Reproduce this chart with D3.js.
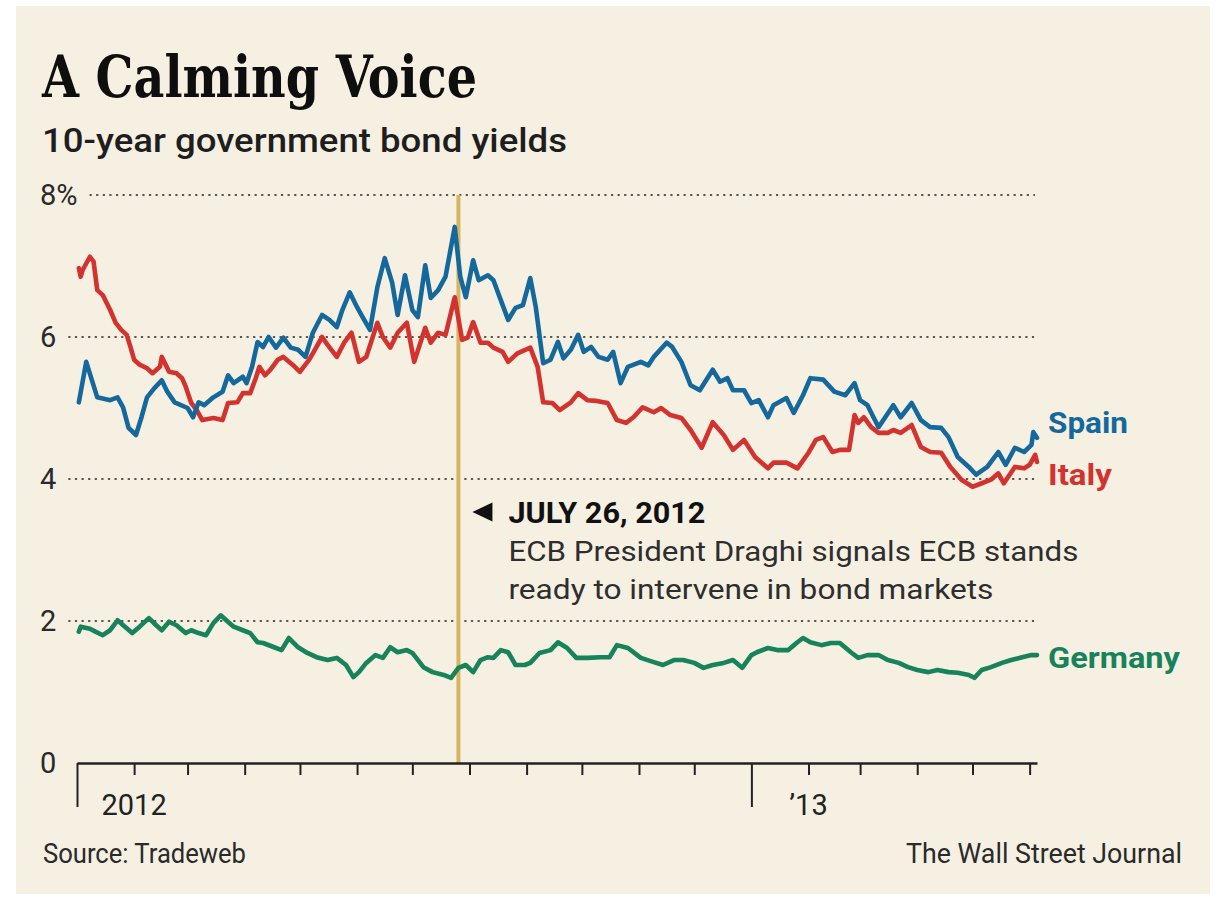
<!DOCTYPE html>
<html>
<head>
<meta charset="utf-8">
<script src="https://cdn.jsdelivr.net/npm/d3@7"></script>
<style>
  html, body { margin: 0; padding: 0; background: #ffffff; }
  svg { display: block; }
</style>
</head>
<body>
<div id="chart"></div>
<script>
// 10-year government bond yields (approximate)
const spain = [
  ["2012-01-02",5.08],["2012-01-06",5.65],["2012-01-09",5.40],["2012-01-12",5.15],["2012-01-19",5.11],
  ["2012-01-23",5.15],["2012-01-26",5.01],["2012-01-29",4.72],["2012-02-02",4.62],["2012-02-05",4.87],
  ["2012-02-08",5.15],["2012-02-12",5.28],["2012-02-16",5.39],["2012-02-19",5.23],["2012-02-23",5.08],
  ["2012-03-01",5.00],["2012-03-04",4.87],["2012-03-07",5.08],["2012-03-10",5.04],["2012-03-15",5.15],
  ["2012-03-20",5.23],["2012-03-23",5.46],["2012-03-26",5.35],["2012-03-31",5.44],["2012-04-02",5.35],
  ["2012-04-05",5.58],["2012-04-08",5.93],["2012-04-11",5.86],["2012-04-14",6.00],["2012-04-18",5.85],
  ["2012-04-22",5.99],["2012-04-26",5.85],["2012-04-30",5.82],["2012-05-04",5.72],["2012-05-08",6.06],
  ["2012-05-13",6.31],["2012-05-17",6.24],["2012-05-21",6.14],["2012-05-24",6.38],["2012-05-28",6.63],
  ["2012-06-01",6.42],["2012-06-04",6.28],["2012-06-08",6.10],["2012-06-12",6.70],["2012-06-16",7.11],
  ["2012-06-20",6.77],["2012-06-23",6.31],["2012-06-27",6.87],["2012-07-01",6.38],["2012-07-04",6.28],
  ["2012-07-08",7.01],["2012-07-11",6.55],["2012-07-15",6.66],["2012-07-19",6.85],["2012-07-24",7.55],
  ["2012-07-27",6.85],["2012-07-30",6.56],["2012-08-03",7.08],["2012-08-06",6.80],["2012-08-11",6.87],
  ["2012-08-14",6.80],["2012-08-18",6.52],["2012-08-22",6.24],["2012-08-26",6.41],["2012-08-30",6.45],
  ["2012-09-03",6.83],["2012-09-06",6.42],["2012-09-10",5.63],["2012-09-14",5.68],["2012-09-18",5.93],
  ["2012-09-21",5.70],["2012-09-25",5.82],["2012-09-29",6.03],["2012-10-02",5.79],["2012-10-06",5.86],
  ["2012-10-10",5.72],["2012-10-15",5.68],["2012-10-18",5.79],["2012-10-22",5.35],["2012-10-26",5.58],
  ["2012-11-02",5.65],["2012-11-06",5.60],["2012-11-09",5.72],["2012-11-16",5.92],["2012-11-19",5.86],
  ["2012-11-24",5.65],["2012-11-29",5.32],["2012-12-04",5.25],["2012-12-11",5.54],["2012-12-15",5.37],
  ["2012-12-19",5.42],["2012-12-22",5.25],["2012-12-28",5.25],["2013-01-01",5.07],["2013-01-05",5.11],
  ["2013-01-10",4.87],["2013-01-13",5.04],["2013-01-20",5.14],["2013-01-24",4.93],["2013-01-29",5.18],
  ["2013-02-02",5.42],["2013-02-09",5.40],["2013-02-15",5.23],["2013-02-21",5.18],["2013-02-26",5.35],
  ["2013-03-01",5.11],["2013-03-05",5.04],["2013-03-11",4.73],["2013-03-19",5.04],["2013-03-23",4.87],
  ["2013-03-29",5.07],["2013-04-03",4.83],["2013-04-08",4.73],["2013-04-14",4.72],["2013-04-18",4.59],
  ["2013-04-23",4.31],["2013-04-29",4.17],["2013-05-03",4.06],["2013-05-09",4.17],["2013-05-15",4.38],
  ["2013-05-19",4.20],["2013-05-24",4.44],["2013-05-29",4.38],["2013-06-02",4.48],["2013-06-03",4.66],
  ["2013-06-05",4.58]
];

const italy = [
  ["2012-01-02",6.97],["2012-01-03",6.85],["2012-01-04",6.94],["2012-01-08",7.13],["2012-01-10",7.06],
  ["2012-01-12",6.66],["2012-01-15",6.59],["2012-01-19",6.38],["2012-01-22",6.20],["2012-01-25",6.10],
  ["2012-01-28",6.03],["2012-01-30",5.86],["2012-02-01",5.68],["2012-02-04",5.61],["2012-02-08",5.56],
  ["2012-02-11",5.49],["2012-02-15",5.58],["2012-02-16",5.72],["2012-02-20",5.51],["2012-02-24",5.49],
  ["2012-02-27",5.42],["2012-02-29",5.30],["2012-03-03",5.07],["2012-03-06",4.97],["2012-03-09",4.83],
  ["2012-03-15",4.86],["2012-03-20",4.83],["2012-03-23",5.07],["2012-03-28",5.08],["2012-03-31",5.21],
  ["2012-04-04",5.21],["2012-04-07",5.42],["2012-04-09",5.58],["2012-04-12",5.46],["2012-04-15",5.54],
  ["2012-04-19",5.68],["2012-04-22",5.72],["2012-04-27",5.61],["2012-05-01",5.51],["2012-05-06",5.68],
  ["2012-05-08",5.77],["2012-05-13",6.00],["2012-05-16",5.89],["2012-05-21",5.72],["2012-05-25",5.92],
  ["2012-05-29",6.06],["2012-06-02",5.65],["2012-06-06",5.72],["2012-06-12",6.20],["2012-06-15",6.00],
  ["2012-06-19",5.85],["2012-06-23",6.06],["2012-06-28",6.20],["2012-07-02",5.65],["2012-07-08",6.13],
  ["2012-07-11",5.92],["2012-07-15",6.06],["2012-07-19",6.03],["2012-07-24",6.56],["2012-07-28",5.96],
  ["2012-07-31",5.99],["2012-08-03",6.21],["2012-08-07",5.92],["2012-08-11",5.92],["2012-08-14",5.85],
  ["2012-08-19",5.79],["2012-08-22",5.65],["2012-08-27",5.77],["2012-09-03",5.85],["2012-09-07",5.58],
  ["2012-09-10",5.08],["2012-09-15",5.07],["2012-09-19",4.97],["2012-09-25",5.08],["2012-09-29",5.21],
  ["2012-10-04",5.11],["2012-10-09",5.10],["2012-10-15",5.07],["2012-10-20",4.83],["2012-10-25",4.79],
  ["2012-10-29",4.87],["2012-11-03",5.01],["2012-11-09",4.94],["2012-11-13",5.00],["2012-11-18",4.90],
  ["2012-11-24",4.86],["2012-11-29",4.69],["2012-12-05",4.44],["2012-12-11",4.80],["2012-12-17",4.62],
  ["2012-12-22",4.41],["2012-12-28",4.55],["2013-01-03",4.31],["2013-01-10",4.15],["2013-01-13",4.23],
  ["2013-01-20",4.23],["2013-01-26",4.15],["2013-02-01",4.37],["2013-02-05",4.55],["2013-02-09",4.59],
  ["2013-02-14",4.38],["2013-02-18",4.41],["2013-02-23",4.41],["2013-02-26",4.90],["2013-02-28",4.79],
  ["2013-03-03",4.87],["2013-03-07",4.73],["2013-03-11",4.65],["2013-03-16",4.65],["2013-03-19",4.69],
  ["2013-03-23",4.65],["2013-03-29",4.76],["2013-04-03",4.45],["2013-04-08",4.38],["2013-04-14",4.37],
  ["2013-04-19",4.17],["2013-04-25",3.99],["2013-05-01",3.89],["2013-05-06",3.94],["2013-05-11",3.99],
  ["2013-05-15",4.08],["2013-05-18",3.94],["2013-05-24",4.17],["2013-05-29",4.15],["2013-06-01",4.20],
  ["2013-06-04",4.34],["2013-06-05",4.24]
];

const germany = [
  ["2012-01-02",1.85],["2012-01-03",1.92],["2012-01-08",1.89],["2012-01-11",1.85],["2012-01-15",1.80],
  ["2012-01-19",1.87],["2012-01-23",2.01],["2012-01-27",1.92],["2012-01-31",1.83],["2012-02-04",1.92],
  ["2012-02-09",2.04],["2012-02-13",1.94],["2012-02-16",1.87],["2012-02-20",1.99],["2012-02-24",1.94],
  ["2012-02-29",1.83],["2012-03-03",1.87],["2012-03-07",1.83],["2012-03-11",1.80],["2012-03-15",1.97],
  ["2012-03-19",2.08],["2012-03-22",2.01],["2012-03-26",1.92],["2012-03-31",1.87],["2012-04-04",1.83],
  ["2012-04-08",1.70],["2012-04-11",1.69],["2012-04-17",1.63],["2012-04-21",1.59],["2012-04-25",1.76],
  ["2012-04-30",1.63],["2012-05-05",1.55],["2012-05-10",1.49],["2012-05-16",1.45],["2012-05-21",1.48],
  ["2012-05-26",1.38],["2012-05-30",1.21],["2012-06-02",1.28],["2012-06-06",1.41],["2012-06-11",1.52],
  ["2012-06-15",1.48],["2012-06-19",1.63],["2012-06-23",1.56],["2012-06-28",1.59],["2012-07-01",1.55],
  ["2012-07-07",1.35],["2012-07-12",1.28],["2012-07-18",1.24],["2012-07-22",1.20],["2012-07-26",1.34],
  ["2012-07-30",1.38],["2012-08-03",1.28],["2012-08-07",1.45],["2012-08-11",1.49],["2012-08-14",1.48],
  ["2012-08-18",1.59],["2012-08-22",1.56],["2012-08-26",1.38],["2012-08-31",1.38],["2012-09-03",1.41],
  ["2012-09-08",1.55],["2012-09-14",1.59],["2012-09-18",1.70],["2012-09-23",1.62],["2012-09-28",1.48],
  ["2012-10-04",1.48],["2012-10-11",1.49],["2012-10-16",1.49],["2012-10-20",1.66],["2012-10-26",1.62],
  ["2012-11-02",1.48],["2012-11-09",1.42],["2012-11-14",1.38],["2012-11-20",1.45],["2012-11-25",1.45],
  ["2012-12-01",1.41],["2012-12-06",1.34],["2012-12-11",1.38],["2012-12-17",1.41],["2012-12-22",1.45],
  ["2012-12-27",1.34],["2013-01-01",1.52],["2013-01-04",1.56],["2013-01-10",1.62],["2013-01-15",1.59],
  ["2013-01-21",1.59],["2013-01-26",1.70],["2013-01-29",1.76],["2013-02-02",1.70],["2013-02-08",1.66],
  ["2013-02-13",1.69],["2013-02-18",1.69],["2013-02-24",1.56],["2013-02-28",1.48],["2013-03-05",1.52],
  ["2013-03-11",1.52],["2013-03-16",1.45],["2013-03-22",1.41],["2013-03-27",1.35],["2013-04-01",1.31],
  ["2013-04-07",1.28],["2013-04-12",1.31],["2013-04-18",1.28],["2013-04-23",1.27],["2013-04-29",1.24],
  ["2013-05-02",1.20],["2013-05-06",1.31],["2013-05-11",1.35],["2013-05-17",1.41],["2013-05-22",1.45],
  ["2013-05-28",1.49],["2013-06-02",1.52],["2013-06-05",1.52]
];

const yTicks = [0, 2, 4, 6, 8];
const yearLabels = [["2012-02-01", "2012"], ["2013-02-01", "\u201913"]];
const eventDate = "2012-07-26";

const SANS = "Roboto, 'Open Sans', sans-serif";
const SERIF = "'DejaVu Serif Condensed', 'DejaVu Serif', serif";
const parse = d3.timeParse("%Y-%m-%d");

const W = 1216, H = 902;
const margin = { top: 195, left: 77 };
const width = 960, height = 568;

const svg = d3.select("#chart").append("svg")
    .attr("width", W)
    .attr("height", H);

// beige panel
svg.append("rect")
    .attr("x", 16).attr("y", 6)
    .attr("width", 1194).attr("height", 888)
    .attr("fill", "#f6f0e2");

function label(parent, str, x, y, o) {
    const t = parent.append("text")
        .attr("x", x).attr("y", y)
        .attr("font-family", o.font || SANS)
        .attr("font-size", o.size)
        .attr("font-weight", o.weight || 400)
        .attr("fill", o.fill || "#222")
        .attr("text-anchor", o.anchor || "start")
        .text(str);
    if (o.w) t.attr("textLength", o.w).attr("lengthAdjust", "spacingAndGlyphs");
    return t;
}

// titles
label(svg, "A Calming Voice", 42, 97, { font: SERIF, size: 58, weight: 700, fill: "#0e0e0e", w: 435 });
label(svg, "10-year government bond yields", 42, 152, { size: 33, weight: 500, fill: "#1e1e1e", w: 525 });

const g = svg.append("g")
    .attr("transform", `translate(${margin.left},${margin.top})`);

const x = d3.scaleTime()
    .domain([parse("2012-01-01"), parse("2013-06-05")])
    .range([0, width]);

const y = d3.scaleLinear()
    .domain([0, 8])
    .range([height, 0]);

// y labels + dotted gridlines
yTicks.forEach(v => {
    const t = label(svg, v === 8 ? "8%" : String(v), 40, margin.top + y(v), { size: 29, fill: "#2a2a2a" })
        .attr("dy", "0.36em");
    if (v === 0) return;
    const right = t.node().getBBox().x + t.node().getBBox().width;
    g.append("line")
        .attr("x1", right + 12 - margin.left)
        .attr("x2", width - 2)
        .attr("y1", y(v)).attr("y2", y(v))
        .attr("stroke", "#5a5650")
        .attr("stroke-width", 2.2)
        .attr("stroke-dasharray", "2.2,4.4");
});

// event marker
const ex = x(parse(eventDate));
g.append("line")
    .attr("x1", ex).attr("x2", ex)
    .attr("y1", y(8)).attr("y2", y(0))
    .attr("stroke", "#d7b560")
    .attr("stroke-width", 4);

// lines
const line = d3.line()
    .x(d => x(parse(d[0])))
    .y(d => y(d[1]));

const series = [
    { name: "Germany", data: germany, color: "#16835a" },
    { name: "Italy", data: italy, color: "#d2332f" },
    { name: "Spain", data: spain, color: "#15689c" }
];

series.forEach(s => {
    g.append("path")
        .datum(s.data)
        .attr("fill", "none")
        .attr("stroke", s.color)
        .attr("stroke-width", 4.6)
        .attr("stroke-linejoin", "round")
        .attr("stroke-linecap", "round")
        .attr("d", line);
});

// x axis
const xAxisG = g.append("g").attr("transform", `translate(0,${height})`);
xAxisG.call(d3.axisBottom(x)
    .ticks(d3.timeMonth.every(1))
    .tickSize(12)
    .tickSizeOuter(0)
    .tickFormat(""));
xAxisG.select(".domain")
    .attr("stroke", "#222")
    .attr("stroke-width", 2.5);
xAxisG.selectAll(".tick line")
    .attr("stroke", "#222")
    .attr("stroke-width", 2)
    .attr("y2", d => d.getMonth() === 0 ? 44 : 12);

yearLabels.forEach(([d, txt]) => {
    label(g, txt, x(parse(d)), height + 52, { size: 29, fill: "#222", anchor: "middle" });
});

// series labels
label(svg, "Spain", 1048, 433, { size: 30, weight: 700, fill: "#15689c", w: 80 });
label(svg, "Italy", 1048, 485, { size: 30, weight: 700, fill: "#d2332f", w: 64 });
label(svg, "Germany", 1048, 668, { size: 30, weight: 700, fill: "#16835a", w: 132 });

// annotation
const ax = margin.left + ex;
svg.append("path")
    .attr("d", `M${ax + 14},512 L${ax + 34},502.5 L${ax + 34},521.5 Z`)
    .attr("fill", "#111");
label(svg, "JULY 26, 2012", ax + 50, 523, { size: 29, weight: 700, fill: "#111", w: 197 });
label(svg, "ECB President Draghi signals ECB stands", ax + 50, 561, { size: 28, fill: "#2e2e2e", w: 570 });
label(svg, "ready to intervene in bond markets", ax + 50, 599, { size: 28, fill: "#2e2e2e", w: 485 });

// footer
label(svg, "Source: Tradeweb", 43, 863, { size: 27, fill: "#2a2a2a", w: 203 });
label(svg, "The Wall Street Journal", 1182, 863, { size: 27, fill: "#2a2a2a", anchor: "end", w: 276 });
</script>
</body>
</html>
